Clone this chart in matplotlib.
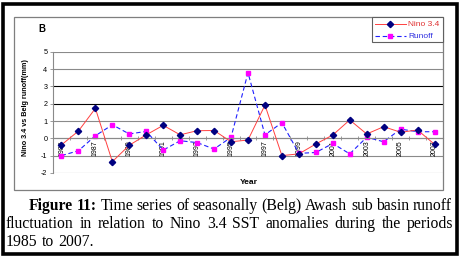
import matplotlib
matplotlib.use("Agg")
import matplotlib.pyplot as plt
from matplotlib.lines import Line2D
from matplotlib.patches import Rectangle

# ---- data ----
years = list(range(1985, 2008))
nino = [-0.38, 0.42, 1.73, -1.35, -0.40, 0.20, 0.75, 0.20, 0.44, 0.45, -0.20, -0.10,
        1.92, -1.00, -0.90, -0.33, 0.19, 1.06, 0.25, 0.67, 0.35, 0.48, -0.35]
runoff = [-1.00, -0.72, 0.15, 0.78, 0.25, 0.40, -0.68, -0.14, -0.25, -0.62, 0.06, 3.79,
          0.20, 0.90, -0.87, -0.82, -0.30, -0.90, 0.06, -0.20, 0.53, 0.38, 0.38]
yticks = [-2, -1, 0, 1, 2, 3, 4, 5]
xlabel_years = years[::2]
series_names = ["Nino 3.4", "Runoff"]
caption_lines = [
    [("Figure", True), ("11:", True), ("Time", False), ("series", False), ("of", False),
     ("seasonally", False), ("(Belg)", False), ("Awash", False), ("sub", False),
     ("basin", False), ("runoff", False)],
    [("fluctuation", False), ("in", False), ("relation", False), ("to", False), ("Nino", False),
     ("3.4", False), ("SST", False), ("anomalies", False), ("during", False), ("the", False),
     ("periods", False)],
    [("1985", False), ("to", False), ("2007.", False)],
]

W, H = 460, 260
fig = plt.figure(figsize=(W / 100, H / 100), dpi=100)
SANS = "Liberation Sans"
SERIF = "Liberation Serif"

def fx(px):
    return px / W

def fy(py):
    return 1 - py / H

# chart frame and outer border
fig.add_artist(Rectangle((fx(14), fy(190)), fx(443) - fx(14), fy(17) - fy(190),
                         transform=fig.transFigure, fill=False, edgecolor="#7f7f7f", lw=0.9))
fig.add_artist(Rectangle((fx(3.5), fy(254)), fx(457) - fx(3.5), fy(3.5) - fy(254),
                         transform=fig.transFigure, fill=False, edgecolor="black", lw=2.6))

ax = fig.add_axes([fx(53), fy(172.9), fx(443) - fx(53), fy(51.8) - fy(172.9)])
ax.set_facecolor("none")
x = list(range(len(years)))

for yv in yticks:
    col = "black" if yv in (2, 3) else "#8a8a8a"
    ax.axhline(yv, color=col, lw=0.8, zorder=0)

ax.plot(x, nino, color="#ff4040", lw=0.7, marker="D", markersize=3.2,
        markerfacecolor="#000080", markeredgecolor="#000080", zorder=3)
ax.plot(x, runoff, color="#2020ff", lw=0.8, ls=(0, (4, 2.5)), marker="s", markersize=3.4,
        markerfacecolor="#ff00ff", markeredgecolor="#ff00ff", zorder=2)

ax.set_xlim(-0.5, len(years) - 0.5)
ax.set_ylim(-2, 5)
ax.spines["top"].set_visible(False)
ax.spines["right"].set_visible(False)
ax.spines["left"].set_color("#8a8a8a")
ax.spines["bottom"].set_color("#8a8a8a")
ax.spines["bottom"].set_position(("data", 0))
ax.spines["left"].set_linewidth(0.8)
ax.spines["bottom"].set_linewidth(0.8)

ax.set_yticks(yticks)
ax.set_yticklabels([str(v) for v in yticks], fontsize=5.2, family=SANS)
ax.tick_params(axis="y", length=2, width=0.6, color="#8a8a8a", pad=2)

ax.set_xticks(x[::2])
ax.set_xticklabels([str(v) for v in xlabel_years], fontsize=5.0, family=SANS,
                   rotation=90, va="top", ha="center")
ax.set_xticks([i + 0.5 for i in x[:-1]], minor=True)
ax.tick_params(axis="x", which="major", length=0, pad=1.5)
ax.tick_params(axis="x", which="minor", length=3, width=0.6, direction="inout", color="#8a8a8a")

# titles / labels
fig.text(fx(38), fy(28.5), "B", fontsize=7, weight="bold", family=SANS, va="center", ha="left")
fig.text(fx(248.5), fy(182), "Year", fontsize=6, weight="bold", family=SANS, va="center", ha="center")
fig.text(fx(26), fy(108), "Nino 3.4 vs Belg runoff(mm)", fontsize=5.2, weight="bold", family=SANS,
         rotation=90, va="center", ha="center")

# legend
fig.add_artist(Rectangle((fx(372), fy(42)), fx(443) - fx(372), fy(17) - fy(42),
                         transform=fig.transFigure, fill=True, facecolor="white",
                         edgecolor="#606060", lw=0.8))
fig.add_artist(Line2D([fx(375), fx(406)], [fy(24), fy(24)], transform=fig.transFigure,
                      color="#ff4040", lw=0.7))
fig.add_artist(Line2D([fx(390.5)], [fy(24)], transform=fig.transFigure, marker="D",
                      markersize=3.2, color="#000080", lw=0))
fig.add_artist(Line2D([fx(375), fx(406)], [fy(36), fy(36)], transform=fig.transFigure,
                      color="#2020ff", lw=0.8, ls=(0, (4, 2.5))))
fig.add_artist(Line2D([fx(390.5)], [fy(36)], transform=fig.transFigure, marker="s",
                      markersize=3.4, color="#ff00ff", lw=0))
fig.text(fx(408), fy(24), series_names[0], fontsize=6, family=SANS, color="#e03030",
         va="center", ha="left")
fig.text(fx(408), fy(36), series_names[1], fontsize=6, family=SANS, color="#3030e0",
         va="center", ha="left")

# caption (justified)
renderer = fig.canvas.get_renderer()
CAP_FS = 11.3
SPACE_PX = 4.0

def place_line(words, x0, x1, yb, justify=True):
    texts = []
    for w, bold in words:
        t = fig.text(0, fy(yb), w, fontsize=CAP_FS, family=SERIF,
                     weight="bold" if bold else "normal", va="baseline", ha="left")
        texts.append(t)
    widths = [t.get_window_extent(renderer).width for t in texts]
    if justify and len(words) > 1:
        gap = (x1 - x0 - sum(widths)) / (len(words) - 1)
    else:
        gap = SPACE_PX
    cx = x0
    for t, w in zip(texts, widths):
        t.set_x(fx(cx))
        cx += w + gap

place_line(caption_lines[0], 29, 452, 209.5)
place_line(caption_lines[1], 6, 453, 227.5)
place_line(caption_lines[2], 6, 453, 245.5, justify=False)

fig.savefig("out.png", dpi=100)
